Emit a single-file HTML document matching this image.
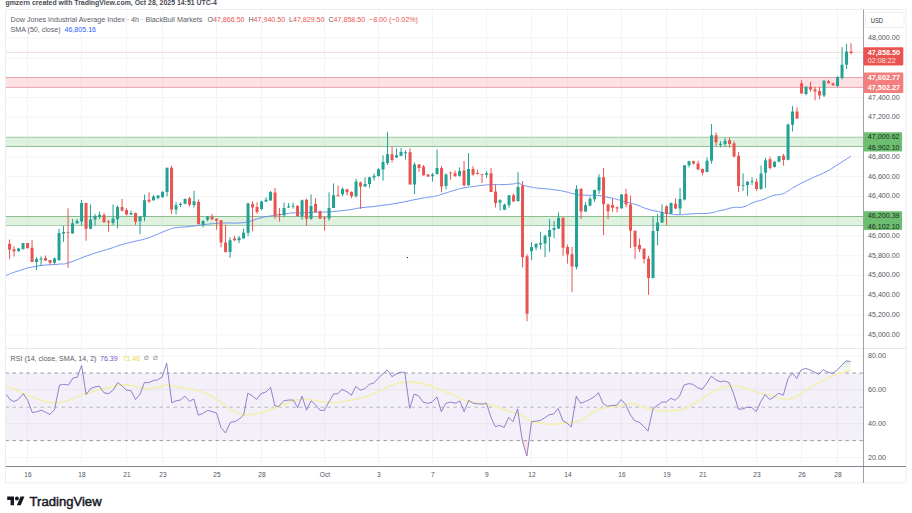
<!DOCTYPE html><html><head><meta charset="utf-8"><title>Dow Jones Industrial Average Index chart</title>
<style>
html,body{margin:0;padding:0;background:#fff;}
body{width:912px;height:513px;overflow:hidden;position:relative;font-family:"Liberation Sans",sans-serif;}
svg{position:absolute;left:0;top:0;display:block}
text{font-family:"Liberation Sans",sans-serif;}
.ax{font-size:7.8px;fill:#555862;}
.lg{font-size:7.1px;fill:#5a5d68;}
.dt{font-size:6.6px;fill:#50535e;text-anchor:middle;}
.lbw{font-size:7.7px;fill:#fff;font-weight:bold;}
.lbd{font-size:7.8px;fill:#1e2a1e;}
</style></head><body>
<svg width="912" height="513" viewBox="0 0 912 513">
<rect width="912" height="513" fill="#fff"/>
<path d="M27.55 9.5V466.5M81.55 9.5V466.5M126.55 9.5V466.5M162.55 9.5V466.5M216.55 9.5V466.5M261.55 9.5V466.5M324.55 9.5V466.5M378.55 9.5V466.5M432.55 9.5V466.5M486.55 9.5V466.5M531.55 9.5V466.5M567.55 9.5V466.5M621.55 9.5V466.5M666.55 9.5V466.5M702.55 9.5V466.5M756.55 9.5V466.5M801.55 9.5V466.5M837.55 9.5V466.5M5.5 38.1H863.5M5.5 57.9H863.5M5.5 77.69H863.5M5.5 97.49H863.5M5.5 117.28H863.5M5.5 137.08H863.5M5.5 156.87H863.5M5.5 176.66H863.5M5.5 196.46H863.5M5.5 216.26H863.5M5.5 236.05H863.5M5.5 255.84H863.5M5.5 275.64H863.5M5.5 295.44H863.5M5.5 315.23H863.5M5.5 335.03H863.5M5.5 356H863.5M5.5 389.8H863.5M5.5 423.7H863.5M5.5 457.5H863.5" stroke="#f4f4f6" stroke-width="1" fill="none"/>
<rect x="5.5" y="77.5" width="858.0" height="9.9" fill="rgba(242,54,69,0.15)"/>
<path d="M5.5 77.5H863.5" stroke="#e9a5ac" stroke-width="1" fill="none"/>
<path d="M5.5 87.4H863.5" stroke="#e9a5ac" stroke-width="1" fill="none"/>
<rect x="5.5" y="137.3" width="858.0" height="9.2" fill="rgba(76,175,80,0.18)"/>
<path d="M5.5 137.3H863.5" stroke="#a3d0a8" stroke-width="1" fill="none"/>
<path d="M5.5 146.5H863.5" stroke="#8fbf96" stroke-width="1" fill="none"/>
<rect x="5.5" y="216.5" width="858.0" height="9" fill="rgba(76,175,80,0.18)"/>
<path d="M5.5 216.5H863.5" stroke="#8abd90" stroke-width="1" fill="none"/>
<path d="M5.5 225.5H863.5" stroke="#a9cdae" stroke-width="1" fill="none"/>
<path d="M5.5 52.4H863.5" stroke="#d98a86" stroke-width="0.8" stroke-dasharray="1 1" fill="none" opacity="0.75"/>
<path d="M5.8 275.5C10.37 273.87 9.1 273.7 19.5 270.6C29.9 267.5 24 268.33 37 266.2C50 264.07 48.1 265.33 58.5 264.2C68.9 263.07 58.47 265.67 68.2 262.8C77.93 259.93 76.63 259.47 87.7 255.6C98.77 251.73 93.97 253.53 101.4 251.2C108.83 248.87 103.23 250.77 110 248.6C116.77 246.43 113.9 247 121.7 244.7C129.5 242.4 125.6 243.67 133.4 241.7C141.2 239.73 137.3 241.2 145.1 238.8C152.9 236.4 149 237.53 156.8 234.5C164.6 231.47 162 231.97 168.5 229.7C175 227.43 169.8 228.7 176.3 227.7C182.8 226.7 180.87 227.4 188 226.7C195.13 226 191.2 226.43 197.7 225.6C204.2 224.77 200.33 225 207.5 224.2C214.67 223.4 212.8 223.6 219.2 223.2C225.6 222.8 220.3 223.07 226.7 223C233.1 222.93 231.27 223.43 238.4 223C245.53 222.57 241.6 223.13 248.1 221.7C254.6 220.27 251.4 220.47 257.9 218.7C264.4 216.93 261.77 217.57 267.6 216.4C273.43 215.23 269.53 216.03 275.4 215.2C281.27 214.37 279.33 214.67 285.2 213.9C291.07 213.13 287.17 213.23 293 212.9C298.83 212.57 296.2 213.1 302.7 212.9C309.2 212.7 305.33 212.57 312.5 212.3C319.67 212.03 316.7 212.43 324.2 212.1C331.7 211.77 326.67 212.07 335 211.3C343.33 210.53 340.57 210.97 349.2 209.8C357.83 208.63 351.13 209.1 360.9 207.8C370.67 206.5 366.13 207.5 378.5 205.9C390.87 204.3 385 205.27 398 203C411 200.73 407.1 201.07 417.5 199.1C427.9 197.13 423.47 198.03 429.2 197.1C434.93 196.17 429.6 197.53 434.7 196.3C439.8 195.07 438 195.37 444.5 193.4C451 191.43 447.7 192.23 454.2 190.4C460.7 188.57 457.5 189.2 464 187.9C470.5 186.6 467.2 187.4 473.7 186.5C480.2 185.6 477 185.83 483.5 185.2C490 184.57 486.7 184.8 493.2 184.6C499.7 184.4 496.5 184.8 503 184.6C509.5 184.4 507.5 184.47 512.7 184C517.9 183.53 515.17 182.8 518.6 183.2C522.03 183.6 518.47 183.83 523 185.2C527.53 186.57 526.87 186.3 532.2 187.3C537.53 188.3 531.53 187.37 539 188.2C546.47 189.03 545.5 188.57 554.6 189.8C563.7 191.03 559.8 190.53 566.3 191.9C572.8 193.27 567.6 192.8 574.1 193.9C580.6 195 578 194.7 585.8 195.2C593.6 195.7 589.7 194.6 597.5 195.4C605.3 196.2 601.7 196 609.2 197.6C616.7 199.2 615.27 198.93 620 200.2C624.73 201.47 618.37 200 623.4 201.4C628.43 202.8 627.3 201.93 635.1 204.4C642.9 206.87 639 206.4 646.8 208.8C654.6 211.2 651.37 210.03 658.5 211.6C665.63 213.17 661.7 212.47 668.2 213.5C674.7 214.53 671.5 214.5 678 214.7C684.5 214.9 681.2 214.5 687.7 214.1C694.2 213.7 690.33 213.83 697.5 213.5C704.67 213.17 701.7 214.07 709.2 213.1C716.7 212.13 715.17 211.63 720 210.6C724.83 209.57 719.2 211.03 723.7 210C728.2 208.97 727 208.53 733.5 207.5C740 206.47 736.7 208.53 743.2 206.9C749.7 205.27 746.5 205 753 202.6C759.5 200.2 756.2 201.97 762.7 199.7C769.2 197.43 766 197.77 772.5 195.8C779 193.83 777 195.43 782.2 193.8C787.4 192.17 783.77 193.33 788.1 190.9C792.43 188.47 787.77 190.53 795.2 186.5C802.63 182.47 800.27 183.67 810.4 178.8C820.53 173.93 816.3 176.73 825.6 171.9C834.9 167.07 829.87 169.53 838.3 164.3C846.73 159.07 846.7 158.9 850.9 156.2" fill="none" stroke="#5c86f2" stroke-width="0.9" stroke-linejoin="round"/>
<path d="M18.55 247.8V251.6M23.05 243V249.2M36.55 257V270M41.05 256.4V265.8M54.55 257.6V263.8M59.05 228.7V261M63.55 225.8V242M72.55 219V233.6M77.05 219V223.9M81.55 200V225.8M90.55 204.4V229.3M95.05 214V225.8M99.55 211.6V219M113.05 204.5V225M117.55 205.5V228.4M131.05 210.6V214.9M140.05 216.4V234.3M144.55 194.6V221.3M153.55 195V200.8M158.05 195V199.4M162.55 191V197.9M167.05 167.7V196.5M176.05 201.8V214.5M180.55 202.4V207.2M185.05 198.3V204.3M194.05 190.7V207.6M203.05 220.3V227.5M207.55 216V221.3M230.05 237.3V257.7M239.05 235.9V243.1M243.55 228.5V238.6M248.05 202.7V236.3M261.55 200.8V210.4M266.05 197.3V202.2M270.55 191V200.6M284.05 202.7V217.2M288.55 203.1V208M293.05 202.7V208.6M302.05 199.6V219.7M311.05 194.4V219.7M329.05 192.3V220.6M333.55 183.5V207.9M342.55 187.4V196.2M356.05 178.6V197.5M365.05 177.2V187M369.55 176.7V187.8M374.05 173.7V180.6M378.55 168.3V176.7M383.05 155.2V180.6M387.55 131.8V165M396.55 148.4V158.1M401.05 148V156.2M405.55 150.3V159.7M414.55 162.4V194.2M432.55 173V181.6M437.05 149.5V174.5M446.05 173.3V189.5M459.55 167.4V176.8M468.55 153V185.6M486.55 171.3V177.8M500.05 199.2V210.5M504.55 203.7V209.9M509.05 195.3V207.6M518.05 172.2V201.2M531.55 242.2V260.1M536.05 243.1V250.3M540.55 231.8V249.4M545.05 234.7V257.2M549.55 219.2V251.9M554.05 221.2V238.2M558.55 212.4V229M576.55 185.1V269.4M585.55 202.2V212M590.05 196.8V206.5M594.55 189.6V201.7M599.05 174.4V193.9M621.55 194V208.8M653.05 216V278.4M657.55 214.1V245.3M662.05 204.4V222.9M671.05 202.4V214.1M680.05 187.9V214.1M684.55 165.2V200.6M689.05 160.7V167.5M707.05 157.4V172.4M711.55 124V163.6M720.55 141.2V147.4M725.05 137.9V146.6M743.05 173.4V190.9M747.55 181.1V195.8M752.05 177.3V185M761.05 165.6V189.9M765.55 157.8V188M774.55 161.1V167.5M779.05 155.8V162.2M788.05 123.6V160.3M792.55 106.1V131.5M806.05 86.1V95.4M824.05 80.2V97M837.55 76.3V87.2M842.05 47.1V79.4M846.55 43.8V69.1" stroke="#23a194" stroke-width="1" fill="none"/>
<path d="M9.55 239.5V259M14.05 246.3V256.4M27.55 243V248.2M32.05 240V262M45.55 255.6V261M50.05 260V264.8M68.05 208.3V267.7M86.05 203V240.8M104.05 213V223M108.55 220V231.7M122.05 198.9V211.5M126.55 208V215.4M135.55 212.5V224.8M149.05 192.4V202.8M171.55 165.7V214M189.55 196.9V206.7M198.55 199.4V224.2M212.05 214V220M216.55 218.4V229.7M221.05 220V247.3M225.55 224.7V252.7M234.55 235.9V241.2M252.55 201.2V231.4M257.05 202.2V213.9M275.05 187.9V218.7M279.55 208V221.7M297.55 205V216.2M306.55 198.7V225.5M315.55 198.3V212.5M320.05 210.5V218.7M324.55 216.8V230.8M338.05 185.4V196.2M347.05 188.9V195.2M351.55 191.3V198.1M360.55 181.5V208.8M392.05 146.4V162.4M410.05 148.4V184.5M419.05 164V171.8M423.55 165V175.7M428.05 174V177M441.55 165.7V192.4M450.55 171.9V179.7M455.05 170.4V176.8M464.05 161.2V186.5M473.05 166.1V175.8M477.55 169.6V174.4M482.05 173.9V183M491.05 168V192M495.55 184.6V207.6M513.55 193.4V201.5M522.55 181.1V267.5M527.05 254.2V321.1M563.05 217.3V255.8M567.55 244.5V263.6M572.05 247V291.9M581.05 188V219.2M603.55 167.9V235.2M608.05 203.5V219.1M612.55 198.6V211.8M617.05 206.4V212.3M626.05 188.8V207.3M630.55 195.6V248.2M635.05 230.7V259M639.55 238.5V252.1M644.05 248.2V263.4M648.55 255.8V294.9M666.55 205.3V225.2M675.55 198.5V209.2M693.55 160.7V164.6M698.05 160.7V170M702.55 168.5V175.3M716.05 132.4V146.1M729.55 137.3V147.6M734.05 141.2V157.4M738.55 151.9V191.9M756.55 178.6V190.9M770.05 156.8V169.5M783.55 153.9V165.6M797.05 107.5V118.8M801.55 80.2V93.5M810.55 81.8V91.5M815.05 86.7V100.3M819.55 86.7V99.3M828.55 79.8V83.7M833.05 82.7V85.8M851.05 43.2V54.5" stroke="#ea5450" stroke-width="1" fill="none"/>
<path d="M17.05 248.6h3V251.2h-3zM21.55 243h3V249.2h-3zM35.05 259h3V262h-3zM39.55 258.6h3V259.5h-3zM53.05 258.6h3V262.8h-3zM57.55 233h3V260h-3zM62.05 231.9h3V233.4h-3zM71.05 223.3h3V233.6h-3zM75.55 221h3V223.3h-3zM80.05 203h3V221.5h-3zM89.05 219.6h3V228.7h-3zM93.55 216h3V219.6h-3zM98.05 214.7h3V217h-3zM111.55 218.5h3V223h-3zM116.05 207h3V219.2h-3zM129.55 212.9h3V214.5h-3zM138.55 216.8h3V221.3h-3zM143.05 200.2h3V216.8h-3zM152.05 196.5h3V200.2h-3zM156.55 195.5h3V197.9h-3zM161.05 192h3V196.9h-3zM165.55 167.7h3V192h-3zM174.55 205.3h3V209.6h-3zM179.05 203.7h3V205.1h-3zM183.55 198.9h3V203.7h-3zM192.55 201.2h3V205.1h-3zM201.55 220.9h3V224.8h-3zM206.05 216.8h3V219.7h-3zM228.55 240.2h3V251.9h-3zM237.55 237.8h3V240.2h-3zM242.05 232.8h3V238.6h-3zM246.55 203.5h3V232.8h-3zM260.05 201.6h3V209h-3zM264.55 199.8h3V201.6h-3zM269.05 192h3V200.6h-3zM282.55 208h3V215.2h-3zM287.05 206.5h3V207.6h-3zM291.55 205.7h3V206.6h-3zM300.55 200.2h3V216.2h-3zM309.55 206h3V218.7h-3zM327.55 208h3V218.6h-3zM332.05 195.2h3V207.9h-3zM341.05 188.9h3V194.2h-3zM354.55 181.5h3V196.2h-3zM363.55 184.1h3V186.4h-3zM368.05 177.2h3V184.1h-3zM372.55 175.7h3V177.6h-3zM377.05 169.2h3V176.1h-3zM381.55 162h3V169.4h-3zM386.05 154.2h3V163h-3zM395.05 155.2h3V157.6h-3zM399.55 151.9h3V155.8h-3zM404.05 152.3h3V153.3h-3zM413.05 164.6h3V184.5h-3zM431.05 174.4h3V176.3h-3zM435.55 168.1h3V174h-3zM444.55 174.4h3V186h-3zM458.05 170.9h3V175.8h-3zM467.05 169h3V185.2h-3zM485.05 173.3h3V174.8h-3zM498.55 200.2h3V202.5h-3zM503.05 204.7h3V209.7h-3zM507.55 195.3h3V205.1h-3zM516.55 187h3V201.2h-3zM530.05 247h3V251.3h-3zM534.55 244.1h3V247.4h-3zM539.05 243.1h3V244.5h-3zM543.55 235.7h3V243.5h-3zM548.05 229.9h3V236.7h-3zM552.55 228h3V229.9h-3zM557.05 217.8h3V228.6h-3zM575.05 189h3V266.9h-3zM584.05 205.2h3V211.4h-3zM588.55 198.7h3V205.6h-3zM593.05 190h3V199.3h-3zM597.55 177.3h3V190.5h-3zM620.05 194.6h3V208.3h-3zM651.55 231.1h3V278h-3zM656.05 222.5h3V231.1h-3zM660.55 212.2h3V222.5h-3zM669.55 203h3V213.5h-3zM678.55 199.1h3V208.6h-3zM683.05 165.2h3V199.6h-3zM687.55 161.3h3V165.2h-3zM705.55 160.7h3V172h-3zM710.05 135.3h3V160.7h-3zM719.05 143.7h3V145.1h-3zM723.55 140.8h3V144.1h-3zM741.55 184.9h3V185.7h-3zM746.05 181.7h3V185h-3zM750.55 181h3V181.8h-3zM759.55 173.4h3V189h-3zM764.05 160.3h3V172.8h-3zM773.05 161.7h3V166.9h-3zM777.55 156.2h3V161.7h-3zM786.55 124.5h3V159.7h-3zM791.05 111.6h3V124.7h-3zM804.55 86.7h3V94.1h-3zM822.55 80.8h3V95.4h-3zM836.05 76.9h3V86.1h-3zM840.55 64.8h3V77.9h-3zM845.05 51.6h3V64.8h-3z" fill="#23a194"/>
<path d="M8.05 243.7h3V249.8h-3zM12.55 249.2h3V251.2h-3zM26.05 243h3V248.2h-3zM30.55 247.8h3V261.9h-3zM44.05 258h3V260.5h-3zM48.55 260h3V262.8h-3zM66.55 232.2h3V233h-3zM84.55 203h3V228.7h-3zM102.55 215h3V222h-3zM107.05 221.5h3V222.5h-3zM120.55 207h3V210.5h-3zM125.05 210h3V214.5h-3zM134.05 213h3V221.7h-3zM147.55 199.8h3V201.4h-3zM170.05 167.7h3V209.6h-3zM188.05 198.3h3V204.7h-3zM197.05 201.8h3V224.2h-3zM210.55 216.4h3V219.3h-3zM215.05 218.7h3V220.7h-3zM219.55 220.2h3V242.6h-3zM224.05 242.4h3V252.1h-3zM233.05 238.6h3V240.2h-3zM251.05 204.1h3V207.6h-3zM255.55 207h3V211.9h-3zM273.55 192.4h3V215.8h-3zM278.05 213.9h3V215.2h-3zM296.05 206h3V216.2h-3zM305.05 199.8h3V218.7h-3zM314.05 204.1h3V211.9h-3zM318.55 211.3h3V218.7h-3zM323.05 217.5h3V218.5h-3zM336.55 195.2h3V196.2h-3zM345.55 189.3h3V192.3h-3zM350.05 191.9h3V196.2h-3zM359.05 182.5h3V186.4h-3zM390.55 154.2h3V160.1h-3zM408.55 152.3h3V184.5h-3zM417.55 164.6h3V167.9h-3zM422.05 166.5h3V175.3h-3zM426.55 174.5h3V176.5h-3zM440.05 168h3V186.5h-3zM449.05 172.5h3V173.3h-3zM453.55 173.3h3V176.2h-3zM462.55 170.4h3V185.2h-3zM471.55 169h3V174.4h-3zM476.05 172.9h3V173.9h-3zM480.55 173.9h3V174.8h-3zM489.55 173.3h3V192h-3zM494.05 191.4h3V203.1h-3zM512.05 195.3h3V201.4h-3zM521.05 185.7h3V257.2h-3zM525.55 256.2h3V313.7h-3zM561.55 217.8h3V247.7h-3zM566.05 247h3V254.6h-3zM570.55 254.2h3V266.5h-3zM579.55 189h3V211.4h-3zM602.05 177.3h3V204.3h-3zM606.55 204.5h3V211.3h-3zM611.05 205.1h3V207.8h-3zM615.55 207.2h3V208.6h-3zM624.55 194h3V204.4h-3zM629.05 204.4h3V230.7h-3zM633.55 230.7h3V246.7h-3zM638.05 244.9h3V249.2h-3zM642.55 248.8h3V259h-3zM647.05 258.5h3V278h-3zM665.05 206.3h3V214.1h-3zM674.05 203.7h3V208.6h-3zM692.05 161.3h3V163.6h-3zM696.55 163.6h3V169.5h-3zM701.05 169.1h3V172.8h-3zM714.55 135.3h3V142.2h-3zM728.05 140.2h3V144.1h-3zM732.55 143.5h3V156.4h-3zM737.05 155.8h3V186h-3zM755.05 181.7h3V189h-3zM768.55 159.3h3V167.9h-3zM782.05 155.8h3V160.1h-3zM795.55 111.6h3V118.4h-3zM800.05 83.3h3V93.5h-3zM809.05 86.7h3V89.6h-3zM813.55 89.2h3V91.5h-3zM818.05 91.1h3V95.4h-3zM827.05 81.2h3V83.3h-3zM831.55 83.3h3V85.3h-3zM849.55 51.6h3V52.9h-3z" fill="#ea5450"/>
<rect x="406.9" y="257" width="1.1" height="1.1" fill="#222"/>
<rect x="5.5" y="373" width="858.0" height="67.6" fill="rgba(126,87,194,0.09)"/>
<defs><linearGradient id="ob" x1="0" y1="373" x2="0" y2="356" gradientUnits="userSpaceOnUse"><stop offset="0" stop-color="#4caf50" stop-opacity="0"/><stop offset="1" stop-color="#4caf50" stop-opacity="0.32"/></linearGradient></defs>
<path d="M796.7 373 L796.7 373 L801.1 369.9 L805.6 368.4 L810.2 369.9 L814.5 372.2 L818.8 373 L823.3 369.6 L827.9 372.2 L832.7 373 L837.3 369.9 L841.6 365.3 L846.2 360.8 L850.5 361.5 L850.5 373z" fill="url(#ob)"/>
<path d="M520.5 440.6L522.4 441.3L526.9 456L530 440.6z" fill="rgba(239,83,80,0.15)"/>
<path d="M5.5 373H863.5M5.5 440.6H863.5" stroke="#8b8e98" stroke-width="0.9" stroke-dasharray="3.4 3.6" fill="none"/>
<path d="M5.5 407.2H863.5" stroke="#adafb7" stroke-width="0.9" stroke-dasharray="3.4 3.6" fill="none"/>
<path d="M6.3 386.4C9.27 387.4 8.87 386.7 15.2 389.4C21.53 392.1 17.7 391.3 25.3 394.5C32.9 397.7 29.53 396.3 38 399C46.47 401.7 43.1 401.57 50.7 402.6C58.3 403.63 54.07 403.13 60.8 402.1C67.53 401.07 64.13 401.8 70.9 399.5C77.67 397.2 74.33 397.73 81.1 395.2C87.87 392.67 84.47 393.83 91.2 391.9C97.93 389.97 94.53 391.07 101.3 389.4C108.07 387.73 104.73 388.33 111.5 386.9C118.27 385.47 114.87 385.53 121.6 385.1C128.33 384.67 124.93 384.6 131.7 385.6C138.47 386.6 135.13 387.27 141.9 388.1C148.67 388.93 145.27 388.67 152 388.1C158.73 387.53 157.03 387.4 162.1 386.4C167.17 385.4 162.1 384.93 167.2 385.1C172.3 385.27 170.63 385.73 177.4 386.9C184.17 388.07 180.77 387.33 187.5 388.6C194.23 389.87 190.83 388.73 197.6 390.7C204.37 392.67 201.03 391.3 207.8 394.5C214.57 397.7 211.17 395.83 217.9 400.3C224.63 404.77 222.1 403.93 228 407.9C233.9 411.87 230.53 409.93 235.6 412.2C240.67 414.47 237.3 414.03 243.2 414.7C249.1 415.37 246.53 415.2 253.3 414.2C260.07 413.2 256.73 413.63 263.5 411.7C270.27 409.77 266.87 410.77 273.6 408.4C280.33 406.03 276.93 407.13 283.7 404.6C290.47 402.07 287.13 402.5 293.9 400.8C300.67 399.1 297.27 399.67 304 399.5C310.73 399.33 307.33 399.43 314.1 400.3C320.87 401.17 317.53 401.27 324.3 402.1C331.07 402.93 327.67 403.07 334.4 402.8C341.13 402.53 337.73 402.4 344.5 401.3C351.27 400.2 347.93 400.93 354.7 399.5C361.47 398.07 358.07 399.1 364.8 397C371.53 394.9 368.13 396 374.9 393.2C381.67 390.4 378.33 391.57 385.1 388.6C391.87 385.63 388.47 386.4 395.2 384.3C401.93 382.2 398.53 382.87 405.3 382.3C412.07 381.73 408.73 381.93 415.5 382.6C422.27 383.27 418.83 382.63 425.6 384.3C432.37 385.97 429.03 385.07 435.8 387.6C442.57 390.13 439.17 389.03 445.9 391.9C452.63 394.77 450.1 393.5 456 396.2C461.9 398.9 458.53 398.03 463.6 400C468.67 401.97 465.3 401 471.2 402.1C477.1 403.2 474.53 402.2 481.3 403.3C488.07 404.4 484.73 403.53 491.5 405.4C498.27 407.27 494.87 406.63 501.6 408.9C508.33 411.17 504.93 409.83 511.7 412.2C518.47 414.57 515.13 412.87 521.9 416C528.67 419.13 525.27 419.23 532 421.6C538.73 423.97 535.33 422.17 542.1 423.1C548.87 424.03 545.53 424.4 552.3 424.4C559.07 424.4 555.67 423.8 562.4 423.1C569.13 422.4 565.73 423.57 572.5 422.3C579.27 421.03 575.93 422.67 582.7 419.3C589.47 415.93 586.07 415.83 592.8 412.2C599.53 408.57 596.13 410.1 602.9 408.4C609.67 406.7 606.33 408.1 613.1 407.1C619.87 406.1 616.43 406.5 623.2 405.4C629.97 404.3 626.63 403.23 633.4 403.8C640.17 404.37 636.77 405.13 643.5 407.1C650.23 409.07 646.83 408.43 653.6 409.7C660.37 410.97 657.03 410.67 663.8 410.9C670.57 411.13 667.17 411.07 673.9 410.4C680.63 409.73 678.1 410.83 684 408.9C689.9 406.97 686.53 407.3 691.6 404.6C696.67 401.9 693.3 404.43 699.2 400.8C705.1 397.17 702.53 397.77 709.3 393.7C716.07 389.63 712.73 391.03 719.5 388.6C726.27 386.17 722.87 386.97 729.6 386.4C736.33 385.83 732.93 385.73 739.7 386.9C746.47 388.07 743.13 387.8 749.9 389.9C756.67 392 753.27 391.43 760 393.2C766.73 394.97 763.33 393.5 770.1 395.2C776.87 396.9 773.53 397.1 780.3 398.3C787.07 399.5 783.67 400.23 790.4 398.8C797.13 397.37 793.73 397.8 800.5 394C807.27 390.2 803.93 391.47 810.7 387.4C817.47 383.33 814.07 385.37 820.8 381.8C827.53 378.23 824.13 379.67 830.9 376.7C837.67 373.73 834.57 375.17 841.1 372.9C847.63 370.63 847.37 370.9 850.5 369.9" fill="none" stroke="#f5eeb4" stroke-width="1.7" stroke-linejoin="round"/>
<polyline points="6.3,394.5 10.1,399.5 13.9,401.6 18.2,399.5 23.3,393.7 27.9,400.8 32.4,412.7 36.7,411.7 41.3,410.2 45.6,412.2 49.9,414.5 54.5,409.7 59.5,385.1 63.8,384.3 68.4,385.1 73,378 77.3,377.2 81.6,365.3 86.1,394.5 90.7,388.6 95,386.9 99.3,386.1 103.9,392.7 108.4,393.7 112.7,390.7 117.8,382.6 121.6,385.6 126.2,389.9 131,390.7 135.5,399.5 139.9,394.5 144.4,382.6 149,382.6 153.3,380.5 157.6,379.8 162.1,377.2 166.7,363.3 171.8,402.8 176.1,400.8 180.4,400 184.9,396.2 189.5,401.3 193.8,399 198.4,415.2 202.7,413.5 207.8,410.4 212.3,411.7 216.6,413 220.9,427.4 225.5,433 228,427.4 230.5,422.3 235.1,421.6 239.4,419 243.7,414.7 247.8,393.2 252.1,395.7 256.6,399.5 260.9,393.7 266,391.9 270.6,387.4 274.9,405.9 278.7,406.4 283.7,400.8 288.8,400 293.4,400 297.7,407.9 302,396.2 306.5,410.2 311.1,400.8 315.4,404.6 320,410.2 324.3,410.4 328.8,402.1 333.6,394 337.7,393.7 342,389.4 347.1,391.9 351.4,395.2 355.9,386.4 360.3,390.2 364.8,388.6 369.4,384.3 373.7,383.1 378,378.5 382.5,374.2 387.1,369.9 391.9,376.7 396,374.2 400.3,372.2 404.8,372.4 409.7,408.4 414.2,394 418.5,395.7 423.1,402.1 427.6,403.3 432,402.1 437,397 441.3,411.7 445.9,403.3 450.4,402.1 456,403.3 459.8,400.8 464.1,411.7 468.7,400.3 473.2,403.3 477.5,403.8 482.1,404.1 486.4,403.3 491,417.3 495.3,426.6 499.6,425.4 504.1,427.4 508.7,417.3 513,421.8 517.6,408.9 522.4,441.3 526.9,456 531.5,421.8 535.8,421.1 540.1,420.6 544.7,417.8 549.2,414.7 553.5,414.2 558.1,408.4 562.9,420.6 567,423.1 571.3,426.9 576.3,396.2 580.7,403.3 585.2,401.6 589.5,399.5 594.1,397 598.4,392.7 602.9,403.3 607.5,406.4 611.8,405.4 616.4,405.4 621.2,399.5 625.7,404.6 630.3,414.7 634.6,420.6 639.2,422.3 643.5,426.1 648,431.2 653.1,408.4 657.4,405.4 661.7,402.1 666.3,402.1 670.8,398.3 675.1,400.3 679.5,396.2 684,385.1 688.6,383.6 692.9,384.3 697.4,387.6 702.2,389.4 706.8,383.1 711.4,376.2 715.7,379.8 720.2,381.8 724.5,381 729.1,382.6 733.4,393.2 738.5,409.2 742.8,408.9 747.3,407.1 751.9,407.6 756.2,411.7 760.8,401.6 765.1,394.5 769.6,399.5 773.9,397 778.5,393.2 783.3,395.2 787.9,378.8 792.4,372.9 796.7,378.5 801.1,369.9 805.6,368.4 810.2,369.9 814.5,372.2 818.8,374.2 823.3,369.6 827.9,372.2 832.7,373.4 837.3,369.9 841.6,365.3 846.2,360.8 850.5,361.5" fill="none" stroke="#7a63c0" stroke-width="0.8" stroke-linejoin="round"/>
<rect x="5.5" y="9.5" width="900.5" height="473.3" fill="none" stroke="#edeef2" stroke-width="1"/>
<path d="M5.5 348.5H906" stroke="#e6e8ee" stroke-width="1" fill="none"/>
<path d="M863.5 9.5V482.8" stroke="#9fa2ac" stroke-width="1" fill="none"/>
<path d="M5.5 466.5H906" stroke="#82858f" stroke-width="1" fill="none"/>
<rect x="865.5" y="12.5" width="38.5" height="15" rx="2" fill="#fff" stroke="#e6e8ee" stroke-width="0.8"/>
<text x="870.8" y="23.15" textLength="12.2" lengthAdjust="spacingAndGlyphs" style="font-size:7.4px;fill:#2a2d36">USD</text>
<text class="ax" x="868" y="40.3" textLength="31.7" lengthAdjust="spacingAndGlyphs">48,000.00</text>
<text class="ax" x="868" y="99.55" textLength="31.7" lengthAdjust="spacingAndGlyphs">47,400.00</text>
<text class="ax" x="868" y="119.3" textLength="31.7" lengthAdjust="spacingAndGlyphs">47,200.00</text>
<text class="ax" x="868" y="158.8" textLength="31.7" lengthAdjust="spacingAndGlyphs">46,800.00</text>
<text class="ax" x="868" y="178.55" textLength="31.7" lengthAdjust="spacingAndGlyphs">46,600.00</text>
<text class="ax" x="868" y="198.3" textLength="31.7" lengthAdjust="spacingAndGlyphs">46,400.00</text>
<text class="ax" x="868" y="237.8" textLength="31.7" lengthAdjust="spacingAndGlyphs">46,000.00</text>
<text class="ax" x="868" y="257.55" textLength="31.7" lengthAdjust="spacingAndGlyphs">45,800.00</text>
<text class="ax" x="868" y="277.3" textLength="31.7" lengthAdjust="spacingAndGlyphs">45,600.00</text>
<text class="ax" x="868" y="297.05" textLength="31.7" lengthAdjust="spacingAndGlyphs">45,400.00</text>
<text class="ax" x="868" y="316.8" textLength="31.7" lengthAdjust="spacingAndGlyphs">45,200.00</text>
<text class="ax" x="868" y="336.55" textLength="31.7" lengthAdjust="spacingAndGlyphs">45,000.00</text>
<text class="ax" x="868" y="357.6" textLength="17.9" lengthAdjust="spacingAndGlyphs">80.00</text>
<text class="ax" x="868" y="392.3" textLength="17.9" lengthAdjust="spacingAndGlyphs">60.00</text>
<text class="ax" x="868" y="426.2" textLength="17.9" lengthAdjust="spacingAndGlyphs">40.00</text>
<text class="ax" x="868" y="460" textLength="17.9" lengthAdjust="spacingAndGlyphs">20.00</text>
<rect x="863.5" y="47.3" width="39.8" height="18.3" rx="1" fill="#ea5450"/>
<text class="lbw" x="867.8" y="55.0" textLength="32.2" lengthAdjust="spacingAndGlyphs">47,858.50</text>
<text x="867.8" y="63.4" textLength="28" lengthAdjust="spacingAndGlyphs" style="font-size:7.7px;fill:#fff;opacity:.85">02:08:22</text>
<rect x="863.5" y="72.6" width="39.8" height="20.3" rx="1" fill="#f27f7d"/>
<text class="lbw" x="867.8" y="80.0" textLength="32.2" lengthAdjust="spacingAndGlyphs">47,602.77</text>
<text class="lbw" x="867.8" y="90.1" textLength="32.2" lengthAdjust="spacingAndGlyphs">47,502.27</text>
<rect x="863.5" y="132.2" width="38.6" height="19.4" rx="1" fill="#6cbf70"/>
<text class="lbd" x="867.8" y="139.3" textLength="31.8" lengthAdjust="spacingAndGlyphs">47,000.62</text>
<text class="lbd" x="867.8" y="150.1" textLength="31.8" lengthAdjust="spacingAndGlyphs">46,902.10</text>
<rect x="863.5" y="211.2" width="38.6" height="18.8" rx="1" fill="#6cbf70"/>
<text class="lbd" x="867.8" y="217.7" textLength="31.8" lengthAdjust="spacingAndGlyphs">46,200.39</text>
<text class="lbd" x="867.8" y="228.9" textLength="31.8" lengthAdjust="spacingAndGlyphs">46,102.10</text>
<text class="dt" x="27.95" y="476.5">16</text>
<text class="dt" x="81.95" y="476.5">18</text>
<text class="dt" x="126.95" y="476.5">21</text>
<text class="dt" x="162.95" y="476.5">23</text>
<text class="dt" x="216.95" y="476.5">25</text>
<text class="dt" x="261.95" y="476.5">28</text>
<text class="dt" x="324.95" y="476.5">Oct</text>
<text class="dt" x="378.95" y="476.5">3</text>
<text class="dt" x="432.95" y="476.5">7</text>
<text class="dt" x="486.95" y="476.5">9</text>
<text class="dt" x="531.95" y="476.5">12</text>
<text class="dt" x="567.95" y="476.5">14</text>
<text class="dt" x="621.95" y="476.5">16</text>
<text class="dt" x="666.95" y="476.5">19</text>
<text class="dt" x="702.95" y="476.5">21</text>
<text class="dt" x="756.95" y="476.5">23</text>
<text class="dt" x="801.95" y="476.5">26</text>
<text class="dt" x="837.95" y="476.5">28</text>
<text x="5.5" y="5.3" textLength="211.4" lengthAdjust="spacingAndGlyphs" style="font-size:6.7px;font-weight:bold;fill:#474a53">gmzern created with TradingView.com, Oct 28, 2025 14:51 UTC-4</text>
<g transform="scale(1,1.08)"><text class="lg" x="10.6" y="20.28" textLength="191.8" lengthAdjust="spacingAndGlyphs">Dow Jones Industrial Average Index · 4h · BlackBull Markets</text></g>
<g transform="scale(1,1.08)"><text class="lg" x="207.5" y="20.28"><tspan>O</tspan><tspan fill="#ea5450">47,866.50</tspan></text></g>
<g transform="scale(1,1.08)"><text class="lg" x="248.5" y="20.28"><tspan>H</tspan><tspan fill="#ea5450">47,940.50</tspan></text></g>
<g transform="scale(1,1.08)"><text class="lg" x="289" y="20.28"><tspan>L</tspan><tspan fill="#ea5450">47,829.50</tspan></text></g>
<g transform="scale(1,1.08)"><text class="lg" x="328.5" y="20.28"><tspan>C</tspan><tspan fill="#ea5450">47,858.50</tspan></text></g>
<g transform="scale(1,1.08)"><text class="lg" x="369" y="20.28" fill="#ea5450" style="fill:#ea5450">−8.00 (−0.02%)</text></g>
<g transform="scale(1,1.08)"><text class="lg" x="10.6" y="29.63">SMA (50, close)</text></g>
<g transform="scale(1,1.08)"><text class="lg" x="64.5" y="29.63" style="fill:#2962ff">46,805.16</text></g>
<g transform="scale(1,1.08)"><text class="lg" x="10.6" y="334.07">RSI (14, close, SMA, 14, 2)</text></g>
<g transform="scale(1,1.08)"><text class="lg" x="100" y="334.07" style="fill:#7e57c2">76.39</text></g>
<g transform="scale(1,1.08)"><text class="lg" x="122.4" y="334.07" style="fill:#ecd94f">71.46</text></g>
<g transform="scale(1,1.08)"><text class="lg" x="144.3" y="333.70" style="font-size:6px;fill:#3a3d46">∅</text></g>
<g transform="scale(1,1.08)"><text class="lg" x="153.5" y="333.70" style="font-size:6px;fill:#3a3d46">∅</text></g>
<g transform="translate(7.2,494.65) scale(0.4845)" fill="#16181f"><path d="M14 22H7V11H0V4h14v18zM28 22h-8l7.5-18h8L28 22z"/><circle cx="20" cy="8" r="4"/></g>
<text x="29.6" y="505.5" textLength="72" lengthAdjust="spacingAndGlyphs" style="font-size:12.3px;fill:#16181f;stroke:#16181f;stroke-width:0.45px;stroke-linejoin:round">TradingView</text>
</svg></body></html>
